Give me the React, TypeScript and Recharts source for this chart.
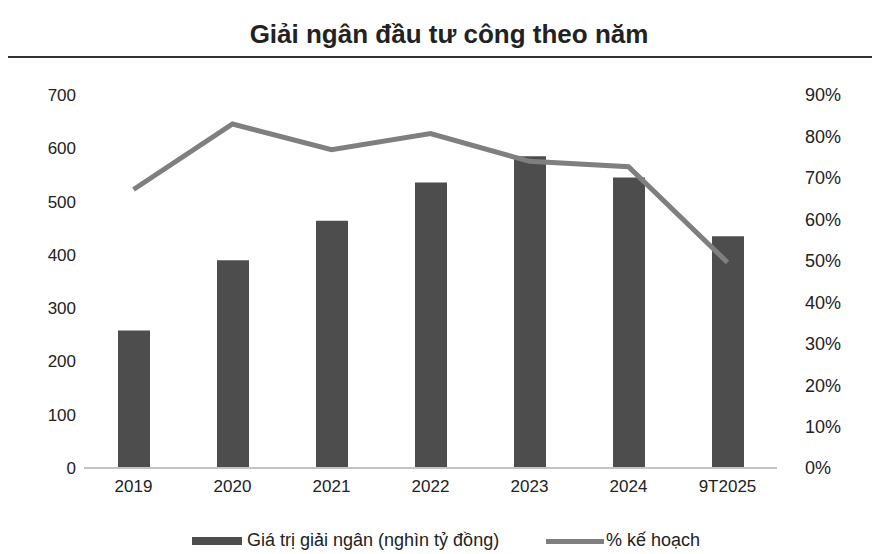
import { ComposedChart, Bar, Line, XAxis, YAxis } from 'recharts';

const years = ['2019', '2020', '2021', '2022', '2023', '2024', '9T2025'];
const disbursed = [258, 390, 464, 536, 585, 545, 435];
const planPct = [67.2, 83, 76.8, 80.7, 74, 72.7, 49.6];
const leftTicks = [0, 100, 200, 300, 400, 500, 600, 700];
const rightTicks = [0, 10, 20, 30, 40, 50, 60, 70, 80, 90];

const data = years.map((year, i) => ({
  year,
  value: disbursed[i],
  pct: planPct[i],
}));

const FONT = '"Liberation Sans", Arial, sans-serif';

export default function App() {
  return (
    <div
      style={{
        position: 'absolute',
        left: 0,
        top: 0,
        width: 872,
        height: 554,
        background: '#fff',
        fontFamily: FONT,
        color: '#222',
      }}
    >
      <div
        style={{
          position: 'absolute',
          left: 0,
          top: 19,
          width: 898,
          textAlign: 'center',
          fontSize: 26,
          fontWeight: 'bold',
        }}
      >
        Giải ngân đầu tư công theo năm
      </div>
      <div
        style={{
          position: 'absolute',
          left: 8,
          top: 56,
          width: 864,
          height: 2,
          background: '#333',
        }}
      />

      <ComposedChart
        width={872}
        height={554}
        data={data}
        margin={{ top: 95, right: 0, bottom: 56, left: 0 }}
        barCategoryGap={0}
      >
        <XAxis
          dataKey="year"
          tickLine={false}
          axisLine={{ stroke: '#c4c4c4', strokeWidth: 2 }}
          tick={{ fill: '#222', fontSize: 17, fontFamily: FONT }}
          tickMargin={6}
          interval={0}
        />
        <YAxis
          yAxisId="left"
          width={84}
          domain={[0, 700]}
          ticks={leftTicks}
          tickLine={false}
          axisLine={false}
          tick={{ fill: '#222', fontSize: 17, fontFamily: FONT }}
        />
        <YAxis
          yAxisId="right"
          orientation="right"
          width={95}
          domain={[0, 90]}
          ticks={rightTicks}
          tickLine={false}
          axisLine={false}
          tickMargin={22}
          tickFormatter={(v: number) => `${v}%`}
          tick={{ fill: '#222', fontSize: 18, fontFamily: FONT, textAnchor: 'start' }}
        />
        <Bar
          yAxisId="left"
          dataKey="value"
          fill="#4d4d4d"
          barSize={32}
          isAnimationActive={false}
        />
        <Line
          yAxisId="right"
          dataKey="pct"
          type="linear"
          stroke="#7f7f7f"
          strokeWidth={5}
          dot={false}
          activeDot={false}
          isAnimationActive={false}
        />
      </ComposedChart>

      <div
        style={{
          position: 'absolute',
          left: 0,
          top: 530,
          width: 872,
          height: 22,
          fontSize: 18,
        }}
      >
        <div
          style={{
            position: 'absolute',
            left: 192,
            top: 7,
            width: 50,
            height: 8,
            background: '#4d4d4d',
          }}
        />
        <span style={{ position: 'absolute', left: 247, top: 0, whiteSpace: 'nowrap' }}>
          Giá trị giải ngân (nghìn tỷ đồng)
        </span>
        <div
          style={{
            position: 'absolute',
            left: 546,
            top: 9,
            width: 58,
            height: 5,
            background: '#7f7f7f',
          }}
        />
        <span style={{ position: 'absolute', left: 606, top: 0, whiteSpace: 'nowrap' }}>
          % kế hoạch
        </span>
      </div>
    </div>
  );
}
